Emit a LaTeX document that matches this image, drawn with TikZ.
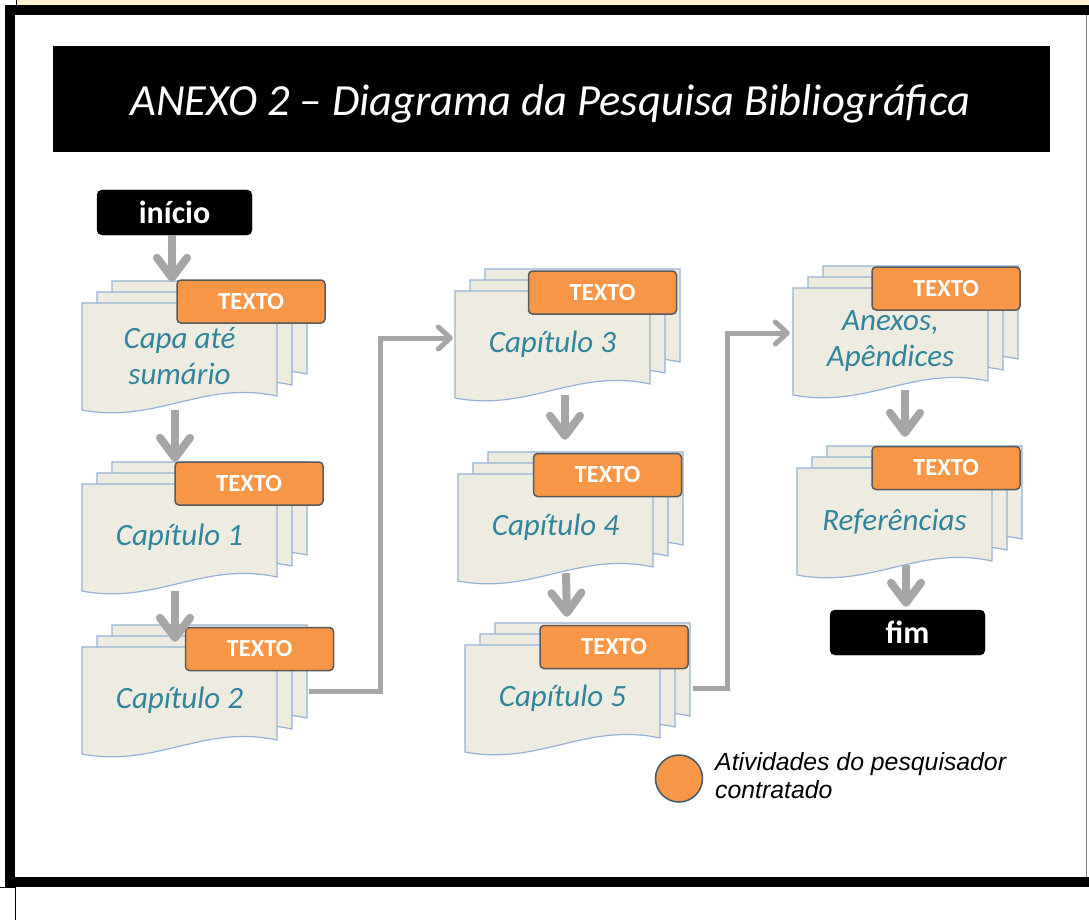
\documentclass[tikz,border=0pt]{standalone}
\usepackage{fontspec}
\setmainfont{Carlito}
\newfontfamily\legendfont{Liberation Sans}
\usetikzlibrary{arrows.meta}
\definecolor{docfill}{HTML}{EEECE1}
\definecolor{docline}{HTML}{95B3D7}
\definecolor{docblue}{HTML}{31859C}
\definecolor{orng}{HTML}{F79646}
\definecolor{orngline}{HTML}{5A5A5A}
\definecolor{arrowgray}{HTML}{A6A6A6}
\definecolor{band}{HTML}{FFF1CC}
\definecolor{dotline}{HTML}{3E5A72}
\newcommand\docw{195}
\newcommand\doch{107}
\newcommand\docsheet[2]{\filldraw[docpage] ({#1},{#2}) -- ({#1+\docw},{#2}) -- ({#1+\docw},{#2+\doch-14}) .. controls ({#1+0.62*\docw},{#2+\doch-30}) and ({#1+0.38*\docw},{#2+\doch+14}) .. ({#1},{#2+\doch}) -- cycle;}
\newcommand\docstack[4]{\docsheet{#2+30}{#3-22}\docsheet{#2+15}{#3-11}\docsheet{#2}{#3}\node[doclabel] (#1) at ({#2+\docw/2},{#3+\doch/2}) {#4};}
\begin{document}
\begin{tikzpicture}[x=1pt,y=-1pt,
  docpage/.style={fill=docfill, draw=docline, line width=1.2pt},
  doclabel/.style={minimum width=195pt, minimum height=107pt, inner sep=0pt, text=docblue, font=\itshape\fontsize{31}{36}\selectfont, align=center},
  texto/.style={fill=orng, draw=orngline, line width=1.5pt, rounded corners=4pt, minimum width=148pt, minimum height=43pt, inner sep=0pt, text=white, font=\bfseries\fontsize{24.5}{26}\selectfont},
  term/.style={fill=black, draw=black, rounded corners=5pt, minimum width=155pt, minimum height=45pt, inner sep=0pt, text=white, font=\bfseries\fontsize{32}{34}\selectfont},
  varrow/.style={draw=arrowgray, line width=8pt, -{Straight Barb[length=20pt,width=30pt,round]}},
  harrow/.style={draw=arrowgray, line width=5pt, -{Straight Barb[length=12pt,width=22pt,round]}}
]
\useasboundingbox (0,0) rectangle (1089,920);
\fill[white] (0,0) rectangle (1089,920);
% top strip and frame
\fill[band] (17,0) rectangle (1089,5);
\draw[line width=1pt] (16,0) -- (16,5);
\fill[black] (5,5) rectangle (1089,15);
\fill[black] (5,5) rectangle (15,887);
\fill[black] (5,877) rectangle (1089,887);
\draw[gray, line width=1pt] (1086,15) -- (1086,877);
\draw[line width=1pt] (0,887) -- (15,887);
\draw[line width=1pt] (15,887) -- (15,920);
% title
\node[fill=black, minimum width=997pt, minimum height=106pt, inner sep=0pt] (titlebox) at (551.5,99) {};
\node[anchor=base, text=white, font=\itshape\fontsize{44.5}{48}\selectfont, inner sep=0pt] (title) at (550.5,116) {ANEXO 2 – Diagrama da Pesquisa Bibliográfica};
% terminals
\node[term] (inicio) at (174.5,212.5) {início};
\node[term] (fim) at (907.5,632.5) {fim};
% document stacks
\docstack{capa}{82}{303}{Capa até\\sumário}
\node[texto] (t1) at (251,301.5) {TEXTO};
\docstack{cap1}{82}{484}{Capítulo 1}
\node[texto] (t2) at (249,483.5) {TEXTO};
\docstack{cap2}{82}{647}{Capítulo 2}
\node[texto] (t3) at (259.5,649) {TEXTO};
\docstack{cap3}{455}{291}{Capítulo 3}
\node[texto] (t4) at (602.5,292.5) {TEXTO};
\docstack{cap4}{458}{474}{Capítulo 4}
\node[texto] (t5) at (607.5,475) {TEXTO};
\docstack{cap5}{465}{645}{Capítulo 5}
\node[texto] (t6) at (614,647) {TEXTO};
\docstack{anexos}{793}{288}{Anexos,\\Apêndices}
\node[texto] (t7) at (946,288.5) {TEXTO};
\docstack{ref}{797}{468}{Referências}
\node[texto] (t8) at (946,468) {TEXTO};
% vertical arrows
\draw[varrow] ([xshift=-2.5pt]inicio.south) -- ([xshift=-7.5pt,yshift=21pt]capa.north);
\draw[varrow] ([xshift=-4.5pt]capa.south) -- ([xshift=-4.5pt,yshift=22pt]cap1.north);
\draw[varrow] ([xshift=-4.5pt]cap1.south) -- ([xshift=-4.5pt,yshift=5pt]cap2.north);
\draw[varrow] ([xshift=12.5pt,yshift=3pt]cap3.south) -- ([xshift=9.5pt,yshift=34pt]cap4.north);
\draw[varrow] ([xshift=10.5pt,yshift=8pt]cap4.south) -- ([xshift=4.5pt,yshift=28pt]cap5.north);
\draw[varrow] ([xshift=14.5pt,yshift=5pt]anexos.south) -- ([xshift=10.5pt,yshift=31pt]ref.north);
\draw[varrow] ([xshift=11.5pt,yshift=10pt]ref.south) -- ([xshift=-1.5pt,yshift=3pt]fim.north);
% elbow connectors
\coordinate (j1) at (380,338);
\coordinate (j2) at (727,333);
\draw[harrow] ([xshift=32pt,yshift=9.5pt]cap2.east) -| (j1) -- ([xshift=-2pt,yshift=6.5pt]cap3.west);
\draw[harrow] ([xshift=33pt,yshift=10.5pt]cap5.east) -| (j2) -- ([xshift=-3pt,yshift=8.5pt]anexos.west);
% legend
\node[circle, fill=orng, draw=dotline, line width=1.5pt, minimum size=47pt, inner sep=0pt] (legdot) at (679,778.5) {};
\node[anchor=base west, align=left, inner sep=0pt, font=\legendfont\itshape\fontsize{24.8}{28}\selectfont] (legtext) at (715,798) {Atividades do pesquisador\\contratado};
\end{tikzpicture}
\end{document}
